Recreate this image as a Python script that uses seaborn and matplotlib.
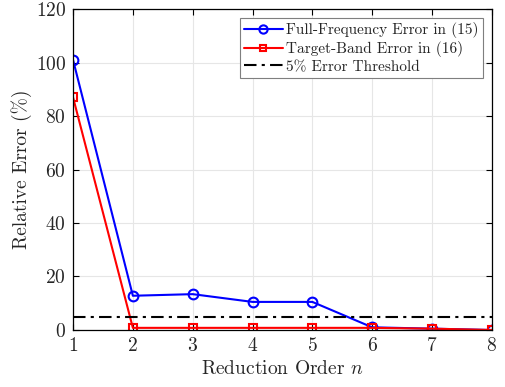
import matplotlib
matplotlib.use("Agg")
import matplotlib.pyplot as plt
import seaborn as sns
import pandas as pd

orders = [1, 2, 3, 4, 5, 6, 7, 8]
full_freq_err = [101.0, 12.8, 13.4, 10.5, 10.5, 1.0, 0.5, 0.0]
target_band_err = [87.0, 0.8, 0.8, 0.8, 0.8, 0.8, 0.5, 0.0]
threshold = 5.0

sns.set_theme(style="whitegrid")
plt.rcParams.update({
    "font.family": "serif",
    "font.serif": ["cmr10"],
    "mathtext.fontset": "cm",
    "axes.formatter.use_mathtext": True,
    "axes.unicode_minus": False,
})

df = pd.DataFrame({"n": orders, "full": full_freq_err, "target": target_band_err})

fig = plt.figure(figsize=(5.05, 3.87), dpi=100)
ax = fig.add_axes([0.1446, 0.1473, 0.8294, 0.8294])

sns.lineplot(data=df, x="n", y="full", ax=ax, color="#0000ff", lw=1.5,
             marker="o", markersize=7, markerfacecolor="none",
             markeredgecolor="#0000ff", markeredgewidth=1.5,
             label="Full-Frequency Error in (15)")
sns.lineplot(data=df, x="n", y="target", ax=ax, color="#ff0000", lw=1.5,
             marker="s", markersize=5.5, markerfacecolor="none",
             markeredgecolor="#ff0000", markeredgewidth=1.5,
             label="Target-Band Error in (16)")
ax.axhline(threshold, color="black", lw=1.5, ls=(0, (6, 2.5, 1.5, 2.5)),
           label="5% Error Threshold")

ax.set_xlim(1, 8)
ax.set_ylim(0, 120)
ax.set_xticks(orders)
ax.set_yticks([0, 20, 40, 60, 80, 100, 120])
ax.tick_params(axis="both", labelsize=14, direction="in", length=4,
               color="black", width=0.8, top=True, right=True,
               bottom=True, left=True, pad=5)
ax.set_xlabel(r"Reduction Order $n$", fontsize=14)
ax.set_ylabel(r"Relative Error (%)", fontsize=14, labelpad=3)

ax.grid(True, color="#e6e6e6", lw=0.8)
ax.set_facecolor("white")
for s in ax.spines.values():
    s.set_visible(True)
    s.set_color("black")
    s.set_linewidth(0.9)

leg = ax.legend(loc="upper right", fontsize=11, frameon=True, fancybox=False,
                edgecolor="#7f7f7f", framealpha=1, borderpad=0.25,
                labelspacing=0.2, handlelength=2.6, handletextpad=0.2,
                borderaxespad=0.6, markerscale=0.85)
leg.get_frame().set_linewidth(0.8)

fig.savefig("out.png", dpi=100)
